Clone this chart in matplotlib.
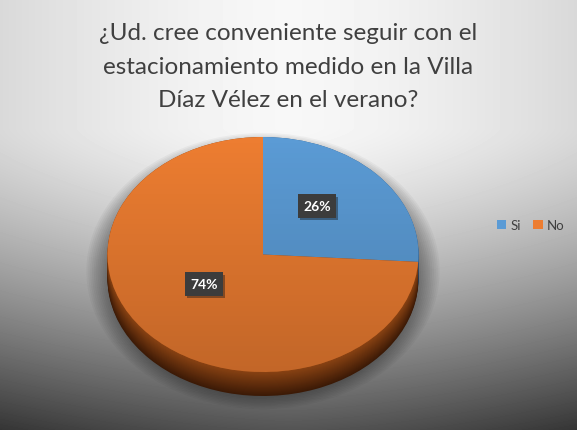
import numpy as np
import matplotlib
matplotlib.use("Agg")
import matplotlib.pyplot as plt
from matplotlib.patches import Ellipse
import matplotlib.patheffects as pe

# data
labels = ["Si", "No"]
values = [26, 74]
colors = ["#5B9BD5", "#ED7D31"]
side_colors_top = ["#2f5f8f", "#8a4313"]
side_colors_bot = ["#1c3a5a", "#3c1a06"]
title = "¿Ud. cree conveniente seguir con el\nestacionamiento medido en la Villa\nDíaz Vélez en el verano?"

plt.rcParams['font.family'] = ['Lato', 'DejaVu Sans']

W, H = 577, 431
fig = plt.figure(figsize=(W / 100, H / 100), dpi=100)

# background gradient
bg = fig.add_axes([0, 0, 1, 1])
yy = np.linspace(0, 1, H)[:, None]
xx = np.linspace(-1, 1, W)[None, :]
shade = 0.97 - 0.12 * np.abs(xx) ** 1.5 - 0.64 * np.clip((yy - 0.3) / 0.7, 0, 1) ** 1.4
bg.imshow(np.clip(shade, 0, 1), cmap="gray", vmin=0, vmax=1, extent=[0, W, H, 0], aspect="auto")
bg.set_xlim(0, W)
bg.set_ylim(H, 0)
bg.axis("off")

# soft shadow under the pie
for i in range(12):
    s = 1.0 + i * 0.012
    bg.add_patch(Ellipse((263, 272), 2 * 156 * s, 2 * 122 * s, fc="black", ec="none", alpha=0.035))

# pie axes (stretched so circle becomes ellipse)
cx, top, face_bot, depth_bot = 263, 138, 373, 397
a = 155.5
b = (face_bot - top) / 2
cy = top + b
d = (depth_bot - face_bot) / b
ax = fig.add_axes([(cx - a) / W, 1 - depth_bot / H, 2 * a / W, (depth_bot - top) / H])

n = 24
for k in range(n):
    off = d * (1 - k / (n - 1))
    t = off / d
    cols = [tuple((1 - t) * np.array(matplotlib.colors.to_rgb(c1)) + t * np.array(matplotlib.colors.to_rgb(c2)))
            for c1, c2 in zip(side_colors_top, side_colors_bot)]
    ax.pie(values, colors=cols, startangle=90, counterclock=False, center=(0, -off),
           wedgeprops=dict(linewidth=0))

wedges, _, autotexts = ax.pie(values, colors=colors, startangle=90, counterclock=False,
                              autopct="%1.0f%%", pctdistance=0.52,
                              wedgeprops=dict(linewidth=0),
                              textprops=dict(color="white", fontsize=10, fontweight="bold"))

# darken top face toward the front
ov = np.zeros((100, 2, 4))
ov[..., 3] = np.linspace(0, 0.18, 100)[:, None]
im = ax.imshow(ov, extent=[-1, 1, -1, 1], origin="upper", aspect="auto", zorder=5)
clip = Ellipse((0, 0), 2, 2, transform=ax.transData)
im.set_clip_path(clip)

# label spots as Excel's perspective places them (pixels)
label_px = [(317, 207), (204, 285)]
for t, (px, py) in zip(autotexts, label_px):
    t.set_position(((px - cx) / a, (cy - py) / b))
    t.set_zorder(10)
    t.set_bbox(dict(boxstyle="square,pad=0.4", fc="#3c3c3c", ec="none"))
    t.get_bbox_patch().set_path_effects([pe.SimplePatchShadow(offset=(1.5, -1.5), alpha=0.4), pe.Normal()])

ax.set_aspect("auto")
ax.set_xlim(-1, 1)
ax.set_ylim(-1 - d, 1)
ax.axis("off")

fig.text(0.5, 1 - 67 / H, title, ha="center", va="center", fontsize=17.5, color="#404040", linespacing=1.75)

fig.legend(wedges, labels, loc="center", bbox_to_anchor=(531 / W, 1 - 226 / H), ncol=2, frameon=False,
           fontsize=9.5, handlelength=0.7, handleheight=0.7, handletextpad=0.35, columnspacing=0.9,
           labelcolor="#404040")

fig.savefig("out.png", dpi=100)
